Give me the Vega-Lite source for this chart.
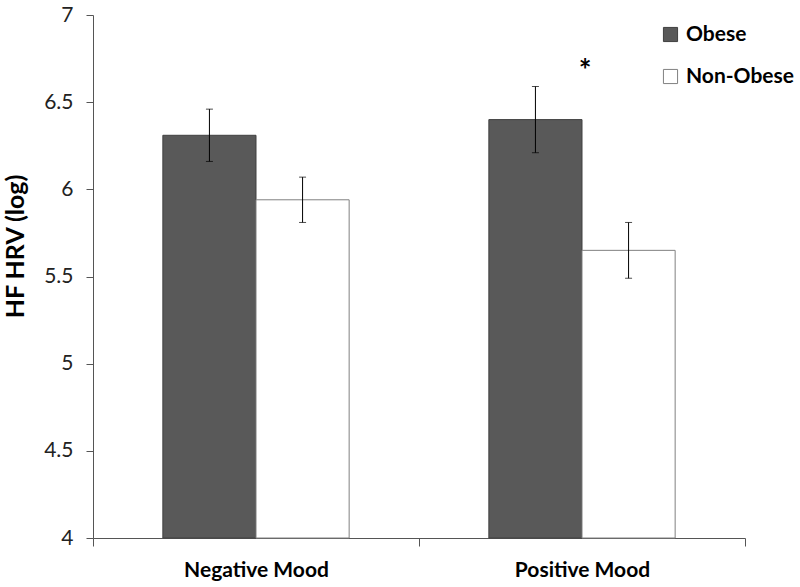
{
  "$schema": "https://vega.github.io/schema/vega-lite/v6.json",
  "width": 652,
  "height": 523,
  "autosize": {"type": "none"},
  "padding": {"left": 93, "top": 15, "right": 55, "bottom": 49},
  "background": "white",
  "config": {
    "view": {"stroke": null},
    "font": "Lato"
  },
  "data": {
    "values": [
      {"mood": "Negative Mood", "group": "Obese", "value": 6.31, "lo": 6.16, "hi": 6.46, "star": ""},
      {"mood": "Negative Mood", "group": "Non-Obese", "value": 5.94, "lo": 5.81, "hi": 6.07, "star": ""},
      {"mood": "Positive Mood", "group": "Obese", "value": 6.40, "lo": 6.21, "hi": 6.59, "star": "*"},
      {"mood": "Positive Mood", "group": "Non-Obese", "value": 5.65, "lo": 5.49, "hi": 5.81, "star": ""}
    ]
  },
  "encoding": {
    "x": {
      "field": "mood", "type": "nominal", "sort": ["Negative Mood", "Positive Mood"],
      "scale": {"paddingInner": 0, "paddingOuter": 0},
      "axis": {
        "title": null, "labelAngle": 0, "tickBand": "extent",
        "labelFont": "Lato", "labelFontSize": 21, "labelFontWeight": "bold", "labelColor": "black",
        "labelPadding": 13, "tickSize": 8, "tickColor": "#555555", "domainColor": "#555555"
      }
    }
  },
  "layer": [
    {
      "mark": {"type": "bar", "strokeWidth": 1},
      "encoding": {
        "xOffset": {
          "field": "group", "type": "nominal", "sort": ["Obese", "Non-Obese"],
          "scale": {"paddingInner": 0, "paddingOuter": 0.75}
        },
        "y": {
          "field": "value", "type": "quantitative",
          "scale": {"domain": [4, 7], "zero": false, "nice": false},
          "axis": {
            "title": "HF HRV (log)", "titleFont": "Lato", "titleFontSize": 25, "titleFontWeight": "bold",
            "titleColor": "black", "titleX": -78, "titleY": 231, "titleBaseline": "middle",
            "values": [4, 4.5, 5, 5.5, 6, 6.5, 7], "format": "~g", "grid": false,
            "labelFont": "Lato", "labelFontSize": 21, "labelColor": "#222222", "labelPadding": 13,
            "tickSize": 7, "tickColor": "#555555", "domainColor": "#555555"
          }
        },
        "y2": {"datum": 4},
        "fill": {
          "field": "group", "type": "nominal", "sort": ["Obese", "Non-Obese"],
          "scale": {"domain": ["Obese", "Non-Obese"], "range": ["#595959", "#ffffff"]},
          "legend": {
            "title": null, "orient": "none", "legendX": 567, "legendY": 9,
            "symbolType": "square", "symbolSize": 200, "symbolStrokeColor": "#555555", "symbolStrokeWidth": 1,
            "labelFont": "Lato", "labelFontSize": 21, "labelFontWeight": "bold", "labelColor": "black",
            "rowPadding": 20, "labelOffset": 5
          }
        },
        "stroke": {
          "field": "group", "type": "nominal",
          "scale": {"domain": ["Obese", "Non-Obese"], "range": ["#404040", "#808080"]},
          "legend": null
        }
      }
    },
    {
      "mark": {"type": "rule", "color": "black", "strokeWidth": 1},
      "encoding": {
        "xOffset": {"field": "group", "type": "nominal", "sort": ["Obese", "Non-Obese"]},
        "y": {"field": "lo", "type": "quantitative"},
        "y2": {"field": "hi"}
      }
    },
    {
      "mark": {"type": "tick", "color": "black", "thickness": 1, "size": 7, "orient": "horizontal"},
      "encoding": {
        "xOffset": {"field": "group", "type": "nominal", "sort": ["Obese", "Non-Obese"]},
        "y": {"field": "lo", "type": "quantitative"}
      }
    },
    {
      "mark": {"type": "tick", "color": "black", "thickness": 1, "size": 7, "orient": "horizontal"},
      "encoding": {
        "xOffset": {"field": "group", "type": "nominal", "sort": ["Obese", "Non-Obese"]},
        "y": {"field": "hi", "type": "quantitative"}
      }
    },
    {
      "transform": [{"filter": "datum.star != ''"}],
      "mark": {"type": "text", "fontSize": 30, "fontWeight": "bold", "baseline": "middle", "align": "center", "dy": 8, "dx": 3},
      "encoding": {
        "x": {"field": "mood", "type": "nominal", "bandPosition": 0.5},
        "y": {"datum": 6.72, "type": "quantitative"},
        "text": {"field": "star"}
      }
    }
  ]
}
